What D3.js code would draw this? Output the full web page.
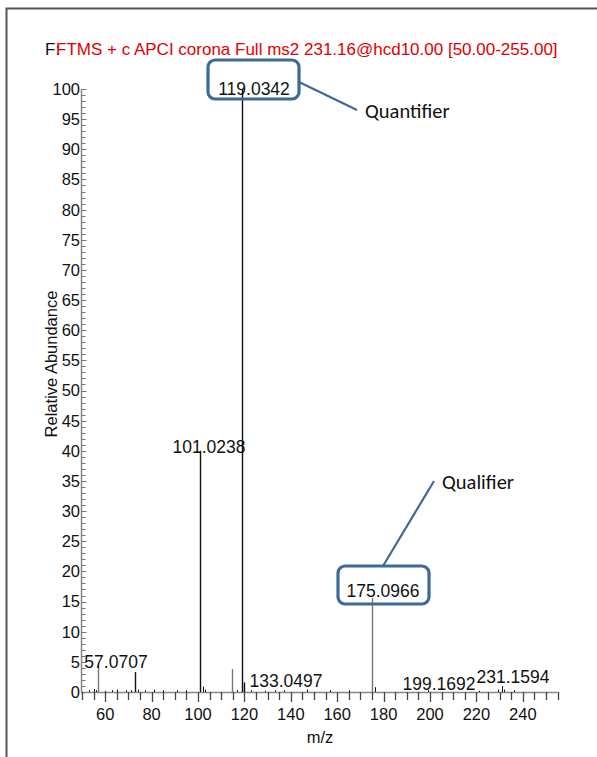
<!DOCTYPE html>
<html><head><meta charset="utf-8">
<script src="https://cdn.jsdelivr.net/npm/d3@7"></script>
<style>body{margin:0;background:#fff}svg{display:block}</style>
</head><body>
<script>
// ---- data ----
const mz = [53.0,55.1,56.0,57.0707,60.0,63.0,65.1,69.0,71.0,72.8,74.1,77.0,81.1,85.0,91.1,95.0,101.0238,102.0,103.0,114.6,117.0,119.0342,120.0,123.0,129.0,133.0497,137.0,147.0,157.0,165.0,175.0966,176.1,199.1692,221.0,229.1,231.1594,232.1,236.0];
const intensity = [0.3,0.5,0.3,4.5,0.2,0.3,0.4,0.3,0.3,3.3,0.4,0.3,0.4,0.3,0.3,0.3,40.0,0.9,0.4,3.8,0.3,100,1.6,0.3,0.2,0.3,0.3,0.4,0.3,0.3,15.6,0.8,0.3,0.2,0.4,1.0,0.4,0.3];
const labeledPeaks = ["57.0707","101.0238","119.0342","133.0497","175.0966","199.1692","231.1594"];
const yTickLabels = [0,5,10,15,20,25,30,35,40,45,50,55,60,65,70,75,80,85,90,95,100];
const xTickLabels = [60,80,100,120,140,160,180,200,220,240];
const titleText = "FTMS + c APCI corona Full ms2 231.16@hcd10.00 [50.00-255.00]";
const annotations = ["Quantifier","Qualifier"];

// ---- styles ----
const grayPeakSet = new Set(["57.0707","114.6","175.0966"]);
const W=597,H=757;
const svg=d3.select("body").append("svg").attr("width",W).attr("height",H);
const font="Liberation Sans, Arial, sans-serif";
const calFont="Carlito, 'Open Sans', Lato, sans-serif";

// frame
svg.append("path").attr("d","M6.5,757 V8.5 H597").attr("fill","none").attr("stroke","#555").attr("stroke-width",2);

const x=d3.scaleLinear().domain([50,255]).range([82,557.6]);
const y=d3.scaleLinear().domain([0,100]).range([692,89]);

// y axis
const yAxis=svg.append("g");
yAxis.append("line").attr("x1",81.5).attr("x2",81.5).attr("y1",y(100)).attr("y2",y(0)).attr("stroke","#888").attr("stroke-width",1.5);
d3.range(0,101,1).forEach(v=>{
  const major=v%5===0;
  yAxis.append("line").attr("x1",81.5).attr("x2",81.5+(major?5:4)).attr("y1",Math.round(y(v))+0.5).attr("y2",Math.round(y(v))+0.5).attr("stroke","#777").attr("stroke-width",1);
});
yAxis.selectAll("text").data(yTickLabels).join("text")
  .attr("x",80).attr("y",d=>y(d)).attr("dy","0.36em").attr("text-anchor","end")
  .attr("font-family",font).attr("font-size",16.5).attr("fill","#111").text(d=>d);

// x axis
const xAxis=svg.append("g");
xAxis.append("line").attr("x1",81).attr("x2",x(255)).attr("y1",692.5).attr("y2",692.5).attr("stroke","#888").attr("stroke-width",1.5);
d3.range(50,256,5).forEach(v=>{
  const major=v%20===0;
  xAxis.append("line").attr("x1",Math.round(x(v))+0.5).attr("x2",Math.round(x(v))+0.5).attr("y1",692).attr("y2",major?702:700).attr("stroke","#444").attr("stroke-width",1.3);
});
xAxis.selectAll("text").data(xTickLabels).join("text")
  .attr("x",d=>x(d)).attr("y",720).attr("text-anchor","middle")
  .attr("font-family",font).attr("font-size",16.5).attr("fill","#111").text(d=>d);

// axis titles
svg.append("text").attr("transform","translate(57,364) rotate(-90)").attr("text-anchor","middle")
  .attr("font-family",font).attr("font-size",16.5).attr("fill","#111").text("Relative Abundance");
svg.append("text").attr("x",320).attr("y",743).attr("text-anchor","middle")
  .attr("font-family",font).attr("font-size",16.5).attr("fill","#111").text("m/z");

// peaks
svg.append("g").selectAll("line").data(mz.map((m,i)=>({m,v:intensity[i]}))).join("line")
  .attr("x1",d=>Math.round(x(d.m))+0.5).attr("x2",d=>Math.round(x(d.m))+0.5)
  .attr("y1",y(0)).attr("y2",d=>y(d.v))
  .attr("stroke",d=>grayPeakSet.has(String(d.m))?"#777":"#111")
  .attr("stroke-width",d=>d.v>1?1.4:1);

// peak labels
const labelPos={"57.0707":[116,668],"101.0238":[209,453],"119.0342":[254,95],"133.0497":[286,687],"175.0966":[383,597],"199.1692":[439,690],"231.1594":[513,683]};
labeledPeaks.forEach(l=>{
  const p=labelPos[l];
  svg.append("text").attr("x",p[0]).attr("y",p[1]).attr("text-anchor","middle")
    .attr("font-family",font).attr("font-size",17.5).attr("fill","#111").text(l);
});

// title
svg.append("text").attr("x",45).attr("y",55).attr("font-family",font).attr("font-size",17).attr("fill","#111").text("F:");
svg.append("text").attr("x",56).attr("y",55).attr("font-family",font).attr("font-size",17).attr("fill","#e00000").text(titleText);

// annotation boxes
const blue="#3e6a98";
svg.append("rect").attr("x",208).attr("y",60).attr("width",91).attr("height",39).attr("rx",7)
  .attr("fill","none").attr("stroke",blue).attr("stroke-width",3.2);
svg.append("line").attr("x1",299).attr("y1",82).attr("x2",357).attr("y2",110).attr("stroke",blue).attr("stroke-width",2.2);
svg.append("text").attr("x",365).attr("y",118).attr("font-family",calFont).attr("font-size",20.5).attr("fill","#111").text(annotations[0]);

svg.append("rect").attr("x",338).attr("y",566).attr("width",91).attr("height",38).attr("rx",7)
  .attr("fill","none").attr("stroke",blue).attr("stroke-width",3.2);
svg.append("line").attr("x1",383).attr("y1",566).attr("x2",434).attr("y2",481).attr("stroke",blue).attr("stroke-width",2.2);
svg.append("text").attr("x",442).attr("y",489).attr("font-family",calFont).attr("font-size",20.5).attr("fill","#111").text(annotations[1]);
</script>
</body></html>
